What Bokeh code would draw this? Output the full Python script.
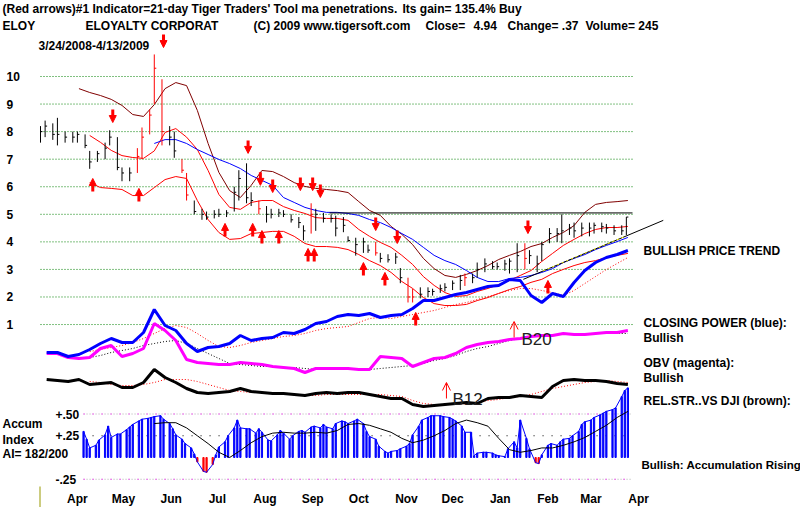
import pandas as pd
from bokeh.plotting import figure
from bokeh.models import Range1d, ColumnDataSource, Arrow, NormalHead, OpenHead
from bokeh.core.properties import value
from bokeh.embed import file_html
from bokeh.resources import INLINE

nan = float("nan")

# ---------------- dates ----------------
START, END = "2008-03-24", "2009-04-13"
bdays = pd.bdate_range(START, END)
bar_dates = bdays[::3]                  # price bars
acc_dates = bdays[20::2]                # accumulation histogram
week_dates = pd.date_range("2008-03-28", "2009-04-10", freq="W-FRI")  # line series

# ---------------- price bars ----------------
bar_high = [8.2, 8.4, 8.3, 8.5, 8.0, 8.0, 8.0, 7.9, 7.3, 7.3,
            7.6, 8.05, 7.8, 6.7, 6.7, 7.4, 8.15, 8.8, 10.8, 9.9,
            8.2, 8.0, 7.0, 6.5, 5.5, 5.2, 5.1, 5.15, 5.2, 5.15,
            6.0, 6.6, 6.85, 5.8, 5.5, 5.3, 5.2, 5.2, 5.15, 5.0,
            4.9, 4.6, 5.4, 5.2, 5.05, 5.0, 4.95, 4.9, 4.2, 4.15,
            4.15, 3.9, 4.0, 3.6, 3.55, 3.6, 3.05, 2.7, 2.3, 2.35,
            2.35, 2.3, 2.45, 2.5, 2.6, 2.8, 2.85, 2.85, 3.25, 3.4,
            3.3, 3.25, 3.35, 3.4, 3.95, 3.95, 3.7, 3.5, 4.0, 4.5,
            4.5, 5.0, 4.65, 4.7, 4.7, 4.7, 4.7, 4.7, 4.65, 4.6,
            4.6, 4.9]
bar_low = [7.6, 7.8, 7.7, 7.5, 7.6, 7.6, 7.6, 7.4, 6.65, 6.9,
           7.0, 7.5, 6.6, 6.2, 6.2, 6.5, 7.0, 7.9, 9.0, 7.5,
           7.5, 7.05, 6.5, 5.5, 5.0, 4.8, 4.8, 4.85, 4.9, 4.9,
           5.1, 5.5, 5.4, 5.3, 5.0, 4.7, 4.85, 4.9, 4.9, 4.7,
           4.5, 4.05, 4.3, 4.4, 4.7, 4.7, 4.2, 4.35, 4.0, 3.5,
           3.6, 3.6, 3.5, 3.25, 3.25, 3.2, 2.5, 1.8, 1.8, 1.95,
           2.0, 2.05, 2.15, 2.2, 2.25, 2.25, 2.4, 2.5, 2.7, 2.9,
           3.0, 3.0, 2.95, 2.85, 2.9, 3.0, 3.2, 2.9, 3.3, 3.95,
           4.0, 3.95, 4.25, 4.15, 4.2, 4.2, 4.3, 4.35, 4.3, 4.25,
           4.25, 4.25]
bar_close = [8.0, 8.2, 7.9, 7.9, 7.8, 7.8, 7.9, 7.5, 6.9, 7.2,
             7.4, 7.8, 6.7, 6.5, 6.5, 7.1, 7.8, 8.6, 10.3, 8.0,
             7.8, 7.3, 6.6, 5.7, 5.1, 5.0, 4.9, 5.0, 5.0, 5.05,
             5.8, 6.3, 5.6, 5.5, 5.2, 5.0, 5.0, 5.05, 5.0, 4.8,
             4.7, 4.4, 5.0, 5.0, 4.85, 4.85, 4.5, 4.6, 4.05, 3.9,
             4.0, 3.7, 3.6, 3.4, 3.35, 3.45, 2.7, 2.0, 2.0, 2.1,
             2.2, 2.2, 2.3, 2.35, 2.5, 2.6, 2.7, 2.7, 3.0, 3.2,
             3.1, 3.1, 3.2, 3.3, 3.5, 3.4, 3.5, 3.2, 3.9, 4.3,
             4.3, 4.4, 4.5, 4.4, 4.5, 4.5, 4.6, 4.55, 4.5, 4.4,
             4.4, 4.9]
red_bar_idx = [15, 16, 17, 18, 19, 22, 23, 34, 42, 52, 57, 58, 66, 75]

# ---------------- price bands / moving averages (weekly) ----------------
upper_band = [nan, nan, nan, 9.56, 9.42, 9.31, 9.17, 8.95, 8.62, 8.55,
              8.98, 9.56, 9.78, 9.67, 8.77, 7.57, 6.52, 5.86, 5.61, 6.05,
              6.59, 6.55, 6.37, 6.15, 6.01, 5.94, 5.90, 5.86, 5.79, 5.46,
              5.14, 4.96, 4.56, 4.27, 3.90, 3.40, 3.03, 2.78, 2.71, 2.82,
              2.96, 3.14, 3.36, 3.51, 3.65, 3.83, 3.94, 4.16, 4.34, 4.59,
              5.07, 5.36, 5.43, 5.46, 5.50]
ma21 = [nan, nan, nan, nan, 7.86, 7.61, 7.32, 7.13, 7.06, 7.03,
        7.30, 7.97, 8.11, 7.80, 7.35, 6.59, 5.72, 5.25, 5.18, 5.43,
        5.50, 5.50, 5.28, 5.14, 5.03, 4.88, 4.85, 4.85, 4.78, 4.45,
        4.20, 3.98, 3.80, 3.51, 3.18, 2.74, 2.42, 2.16, 2.02, 2.05,
        2.20, 2.31, 2.45, 2.60, 2.78, 2.96, 3.29, 3.58, 3.87, 4.09,
        4.30, 4.45, 4.52, 4.52, 4.56]
lower_band = [nan, nan, nan, nan, 6.15, 5.97, 5.94, 5.90, 5.68, 5.68,
              5.97, 6.26, 6.37, 6.30, 5.50, 4.81, 4.34, 4.09, 4.12, 4.30,
              4.34, 4.38, 4.38, 4.20, 3.94, 3.83, 3.83, 3.80, 3.72, 3.54,
              3.32, 3.14, 2.89, 2.56, 2.31, 1.98, 1.76, 1.69, 1.69, 1.73,
              1.87, 1.98, 2.13, 2.27, 2.38, 2.53, 2.64, 2.85, 3.00, 3.14,
              3.25, 3.32, 3.43, 3.51, 3.58]
ma50 = [nan] * 10 + [7.57, 7.71, 7.71, 7.57, 7.35, 7.17, 6.99, 6.84, 6.66, 6.41,
                     6.23, 6.05, 5.61, 5.43, 5.25, 5.14, 5.07, 5.07, 5.03, 4.96,
                     4.81, 4.70, 4.52, 4.30, 4.09, 3.80, 3.51, 3.32, 3.18, 2.96,
                     2.71, 2.56, 2.56, 2.67, 2.71, 2.78, 2.89, 3.03, 3.25, 3.40,
                     3.54, 3.72, 3.87, 4.01, 4.16]
resistance_dates = ["2008-09-28", "2009-04-13"]
resistance_level = [5.05, 5.05]
trend_dates = ["2009-02-01", "2009-05-03"]
trend_prices = [2.64, 4.78]
trend_hilite_dates = ["2009-02-14", "2009-04-09"]
trend_hilite_prices = [2.95, 4.22]

# ---------------- indicators (relative units) ----------------
closing_power = [24, 24, 22, 23, 25.5, 28.5, 31, 29, 29, 34,
                 45.5, 37.5, 35, 28.5, 24.5, 26.5, 27, 28.5, 32.5, 30,
                 31, 31.5, 34, 33.5, 35.5, 38.5, 39.5, 42, 43, 42.5,
                 43.5, 41.5, 42.5, 43, 46, 50, 50, 51.5, 53, 54,
                 55.5, 57, 57.5, 60.5, 60, 52.5, 49, 53.5, 52, 59,
                 65, 69, 71.5, 73, 75]
closing_power_ma = [nan] * 4 + [24.5, 25.5, 26.5, 27.5, 29, 31, 33.5, 36, 37.5, 36.5,
                                33.5, 30, 27, 26.5, 27.5, 29, 30, 31, 32, 32.5,
                                33.5, 35, 36, 36.5, 37, 39, 41, 41.5, 41, 42,
                                43, 44, 45, 46.5, 48, 49, 50.5, 52, 53.5, 55,
                                56, 56, 55, 54, 52.5, 55, 58.5, 62, 65.5, 68.5, 71.5]
obv = [23.5, 23.5, 21.5, 21, 21.5, 26, 27.5, 22, 23.5, 26,
       38.5, 35, 30, 20.5, 19, 18.5, 18, 18, 19, 18.5,
       18, 17, 16.5, 16, 14, 16, 16, 16, 16, 15.5,
       15.5, 22, 21.5, 21, 17, 19, 21, 21.5, 23.5, 26.5,
       28, 29, 29.5, 30.5, 31, 32, 32.5, 32.5, 33.5, 33,
       33, 33.5, 34, 34, 35]
obv_ma = [nan] * 4 + [21.5, 22.5, 24, 25, 26, 27.5, 28.5, 29.5, 30, 28.5,
                      26, 23.5, 21, 18.5, 18, 17.5, 17, 17, 16.5, 16.5,
                      16, 15.5, 16, 16, 16, 16, 15.5, 16, 16.5, 17,
                      17.5, 18.5, 20, 21, 22.5, 24.5, 26, 27, 28.5, 30,
                      31, 32, 32.5, 33, 33, 33, 33.5, 33.5, 33.5, 33.5, 33.5]
rel_strength = [10.5, 10, 9.5, 10.5, 8, 8.5, 9, 6.5, 6.5, 9,
                15.5, 11.5, 9, 6, 4, 3.5, 4, 4.5, 6, 4.5,
                4, 3.5, 3.5, 3, 2.5, 3.5, 4, 3.5, 4, 4,
                3, 2, 1, 1, -2, -3, -2.5, -2, -1.5, -1,
                -1.5, 1, 1.5, 1.5, 2.5, 2, 1.5, 7, 10, 10.5,
                10, 10, 9.5, 8.5, 8]
rel_strength_ma = [nan] * 4 + [9.5, 9, 8, 7.5, 7.5, 8, 9, 10.5, 10.5, 10.5,
                               9.5, 8, 6.5, 5, 4.5, 4, 4, 4, 3.5, 3,
                               2.5, 2.5, 3, 3, 3, 3, 3, 3, 2.5, 2,
                               0, -1.5, -2, -2, -2, -1.5, -1, 0, 0.5, 1.5,
                               2, 3, 4.5, 6, 7, 8, 9, 9.5, 10, 9.5, 9]

# ---------------- accumulation index ----------------
accum = [0.30, 0.21, 0.11, 0.14, 0.20, 0.26, 0.36, 0.23, 0.27, 0.27,
         0.32, 0.35, 0.38, 0.42, 0.44, 0.45, 0.46, 0.47, 0.48, 0.44,
         0.39, 0.33, 0.26, 0.21, 0.16, 0.11, 0.04, -0.05, -0.16, -0.17,
         -0.08, 0.03, 0.12, 0.18, 0.25, 0.34, 0.43, 0.34, 0.33, 0.33,
         0.28, 0.33, 0.29, 0.20, 0.19, 0.26, 0.31, 0.28, 0.21, 0.25,
         0.30, 0.31, 0.29, 0.35, 0.36, 0.34, 0.38, 0.35, 0.33, 0.39,
         0.42, 0.41, 0.39, 0.42, 0.44, 0.39, 0.30, 0.24, 0.21, 0.13,
         0.07, 0.05, 0.07, 0.08, 0.10, 0.13, 0.16, 0.26, 0.36, 0.43,
         0.46, 0.48, 0.48, 0.48, 0.47, 0.46, 0.44, 0.42, 0.36, 0.29,
         0.29, 0.02, 0.05, 0.06, 0.06, 0.05, 0.03, 0.02, 0.01, 0.10,
         0.18, 0.11, 0.43, 0.22, 0.10, -0.06, -0.07, 0.03, 0.14, 0.16,
         0.14, 0.18, 0.21, 0.22, 0.25, 0.30, 0.38, 0.41, 0.43, 0.46,
         0.49, 0.51, 0.53, 0.55, 0.57, 0.70, 0.77, 0.80]
accum_ma = [nan] * 10 + [0.39, 0.40, 0.40, 0.34, 0.25, 0.16, 0.06, 0.0, 0.08, 0.17,
                         0.24, 0.28, 0.29, 0.28, 0.28, 0.29, 0.28, 0.31, 0.38, 0.39,
                         0.37, 0.33, 0.29, 0.22, 0.17, 0.20, 0.25, 0.31, 0.39, 0.43,
                         0.40, 0.36, 0.22, 0.09, 0.06, 0.08, 0.11, 0.11, 0.14, 0.18,
                         0.23, 0.30, 0.37, 0.46, 0.53]

# ---------------- signals ----------------
sell_dates = ["2008-05-10", "2008-06-12", "2008-08-06", "2008-08-14", "2008-08-22",
              "2008-09-09", "2008-09-17", "2008-09-22", "2008-10-28", "2008-11-11", "2009-02-04"]
sell_prices = [8.33, 11.05, 7.21, 6.05, 5.79, 5.86, 5.86, 5.61, 4.41, 3.94, 4.30]
buy_dates = ["2008-04-27", "2008-05-27", "2008-07-22", "2008-08-09", "2008-08-15", "2008-08-26",
             "2008-09-14", "2008-09-18", "2008-10-20", "2008-11-03", "2008-11-23", "2009-02-17"]
buy_prices = [6.30, 5.94, 4.67, 4.67, 4.41, 4.41, 3.76, 3.76, 3.25, 2.89, 1.44, 2.60]
sig_names = ["B12", "B20"]
sig_dates = ["2008-12-13", "2009-01-26"]
sig_from = [1, 31.5]
sig_to = [9, 39.5]

# ---------------- ticks / labels ----------------
price_ticks = [1, 2, 3, 4, 5, 6, 7, 8, 9, 10]
accum_ticks = [0.50, 0.25, -0.25]
accum_tick_labels = ["+.50", "+.25", "-.25"]
month_labels = ["Apr", "May", "Jun", "Jul", "Aug", "Sep", "Oct", "Nov", "Dec", "Jan", "Feb", "Mar", "Apr"]
month_starts = pd.date_range("2008-04-01", "2009-04-01", freq="MS")

# ================= layout mapping (pixels of the 800x507 canvas) =================
T0 = pd.Timestamp(START)
EPOCH = pd.Timestamp("1970-01-01")
PX_DAY = 592 / 385.0
PX_PRICE = 27.56


def ms(ts):
    return (pd.Timestamp(ts) - EPOCH) / pd.Timedelta(milliseconds=1)


def tx(px):
    return ms(T0 + pd.Timedelta(days=(px - 40) / PX_DAY))


def ty(py):
    return 10 - (py - 76) / PX_PRICE


def ind(py):
    return (400 - py) / 2.0


def acc(py):
    return (457 - py) / 87.0


p = figure(width=800, height=507, output_backend="svg", toolbar_location=None,
           x_range=Range1d(tx(0), tx(800)), y_range=Range1d(ty(507), ty(0)),
           x_axis_location=None, y_axis_location=None, min_border=0,
           outline_line_color=None, background_fill_color="white",
           border_fill_color="white")
p.extra_y_ranges = {"ind": Range1d(ind(507), ind(0)), "acc": Range1d(acc(507), acc(0))}
p.xgrid.visible = False
p.ygrid.visible = False

FONT = value("Liberation Sans")
DAY = pd.Timedelta(days=1)
first_day, last_day = pd.Timestamp(START), pd.Timestamp(END)

# ---- grid lines ----
n = len(price_ticks)
p.segment(x0=[first_day] * n, x1=[last_day] * n, y0=price_ticks, y1=price_ticks,
          line_color="#008000", line_width=1, line_dash="1 2")
acc_first = acc_dates[0]
p.segment(x0=[acc_first] * 2, x1=[last_day] * 2, y0=[0.50, -0.25], y1=[0.50, -0.25],
          line_color="#b0b0b0", line_width=1, line_dash="1 2", y_range_name="acc")
p.segment(x0=[acc_first] * 2, x1=[last_day] * 2, y0=[0.50, -0.25], y1=[0.50, -0.25],
          line_color="#ff00ff", line_width=1, line_dash="1 8", y_range_name="acc")
p.segment(x0=[acc_first], x1=[last_day], y0=[0.25], y1=[0.25],
          line_color="black", line_width=1, line_dash="1 8", y_range_name="acc")

# ---- accumulation histogram ----
acc_colors = ["#0000ff" if v >= 0 else "#ff0000" for v in accum]
p.vbar(x=acc_dates, top=accum, bottom=0, width=0.8 * 86400000,
       fill_color=acc_colors, line_color=acc_colors, y_range_name="acc")
p.line(acc_dates, accum, line_color="#0000ff", line_width=1, y_range_name="acc")
p.line(week_dates, accum_ma, line_color="black", line_width=1, y_range_name="acc")

# ---- bands and averages ----
p.line(week_dates, upper_band, line_color="#800000", line_width=1)
p.line(week_dates, ma21, line_color="#ff0000", line_width=1)
p.line(week_dates, lower_band, line_color="#ff0000", line_width=1)
p.line(week_dates, ma50, line_color="#0000ff", line_width=1)
p.line(pd.to_datetime(resistance_dates), resistance_level, line_color="black", line_width=1)

# ---- price bars ----
bar_colors = ["#ff0000" if i in red_bar_idx else "black" for i in range(len(bar_close))]
bsrc = ColumnDataSource(dict(x=bar_dates, x1=bar_dates + 1.3 * DAY, hi=bar_high, lo=bar_low,
                             cl=bar_close, c=bar_colors))
p.segment(x0="x", x1="x", y0="lo", y1="hi", line_color="c", line_width=1, source=bsrc)
p.segment(x0="x", x1="x1", y0="cl", y1="cl", line_color="c", line_width=1, source=bsrc)

# ---- indicator lines ----
p.line(week_dates, obv_ma, line_color="black", line_width=1, line_dash="1 2", y_range_name="ind")
p.line(week_dates, closing_power_ma, line_color="#ff0000", line_width=1, line_dash="1 2", y_range_name="ind")
p.line(week_dates, rel_strength_ma, line_color="#ff0000", line_width=1, line_dash="1 2", y_range_name="ind")
p.line(week_dates, obv, line_color="#ff00ff", line_width=3, y_range_name="ind")
p.line(week_dates, closing_power, line_color="#0000ff", line_width=3, y_range_name="ind")
p.line(week_dates, rel_strength, line_color="black", line_width=3, y_range_name="ind")

# ---- trend line ----
p.line(pd.to_datetime(trend_dates), trend_prices, line_color="black", line_width=1)
p.line(pd.to_datetime(trend_hilite_dates), trend_hilite_prices, line_color="#ffff00",
       line_width=1, line_dash="2 3")

# ---- signal arrows ----
ARROW = 13 / PX_PRICE
sell_src = ColumnDataSource(dict(x=pd.to_datetime(sell_dates),
                                 y0=[v + ARROW for v in sell_prices], y1=sell_prices))
buy_src = ColumnDataSource(dict(x=pd.to_datetime(buy_dates),
                                y0=[v - ARROW for v in buy_prices], y1=buy_prices))
for src in (sell_src, buy_src):
    p.add_layout(Arrow(end=NormalHead(size=7, fill_color="#ff0000", line_color="#ff0000", line_width=1),
                       x_start="x", y_start="y0", x_end="x", y_end="y1",
                       line_color="#ff0000", line_width=3, source=src))
sig_src = ColumnDataSource(dict(x=pd.to_datetime(sig_dates), y0=sig_from, y1=sig_to))
p.add_layout(Arrow(end=OpenHead(size=8, line_color="#ff0000", line_width=1),
                   x_start="x", y_start="y0", x_end="x", y_end="y1",
                   line_color="#ff0000", line_width=1, source=sig_src, y_range_name="ind"))


# ---- texts ----
def label(px, py, txt, size="12px", bold=True, color="black", align="left"):
    p.text(x=[tx(px)], y=[ty(py)], text=[txt], text_align=align, text_baseline="middle",
           text_font=FONT, text_font_size=size, text_font_style="bold" if bold else "normal",
           text_color=color)


p.text(x=[tx(6)] * n, y=price_ticks, text=[str(t) for t in price_ticks],
       text_align="left", text_baseline="middle", text_font=FONT, text_font_size="12px",
       text_font_style="bold", text_color="black")
p.text(x=[tx(55)] * 3, y=accum_ticks, text=accum_tick_labels, text_align="left",
       text_baseline="middle", text_font=FONT, text_font_size="12px",
       text_font_style="bold", text_color="black", y_range_name="acc")
p.text(x=month_starts + 16 * DAY, y=[ty(498)] * len(month_labels), text=month_labels,
       text_align="center", text_baseline="middle", text_font=FONT,
       text_font_size="12px", text_font_style="bold", text_color="black")

label(2, 8, "(Red arrows)#1 Indicator=21-day Tiger Traders' Tool ma penetrations.")
label(402, 8, "Its gain= 135.4% Buy")
label(2, 25, "ELOY")
label(85, 25, "ELOYALTY CORPORAT")
label(253, 25, "(C) 2009 www.tigersoft.com")
label(425, 25, "Close=")
label(473, 25, "4.94")
label(507, 25, "Change= .37")
label(585, 25, "Volume= 245")
label(38, 45, "3/24/2008-4/13/2009")

label(643, 250, "BULLISH PRICE TREND")
label(643, 322, "CLOSING POWER (blue):")
label(643, 337, "Bullish")
label(643, 362, "OBV (magenta):")
label(643, 377, "Bullish")
label(643, 400, "REL.STR..VS DJI (brown):")
label(641, 464, "Bullish: Accumulation Rising", size="11.5px")

label(2, 423, "Accum")
label(2, 439, "Index")
label(2, 453, "AI= 182/200")

label(521, 339, "B20", size="17px", bold=False, color="#202020")
label(452, 399, "B12", size="17px", bold=False, color="#202020")

p.segment(x0=[tx(39.5)], x1=[tx(39.5)], y0=[ty(486)], y1=[ty(507)], line_color="#999900", line_width=1)

open("out.html", "w").write(file_html(p, INLINE))
